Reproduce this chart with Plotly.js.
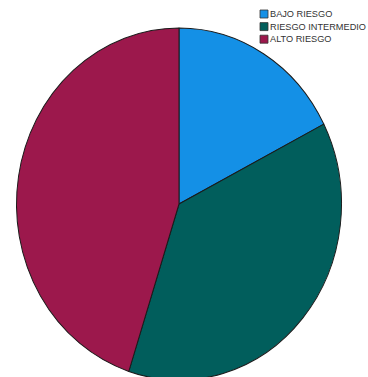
<!DOCTYPE html>
<html><head><meta charset="utf-8">
<script src="https://cdn.plot.ly/plotly-3.0.1.min.js"></script>
<style>body{margin:0;background:#fff}#chart{width:368px;height:377px}</style>
</head><body><div id="chart"></div>
<script>
var categories = ["BAJO RIESGO", "RIESGO INTERMEDIO", "ALTO RIESGO"];
var values = [7, 15, 18];
var colors = ["#1490E6", "#015E5C", "#9C184C"];

var W = 368, H = 377, cx = 179, cy = 204, r = 169;
var data = [{
  type: "pie",
  labels: categories,
  values: values,
  sort: false,
  direction: "clockwise",
  rotation: 0,
  textinfo: "none",
  hoverinfo: "label+value+percent",
  marker: {colors: colors, line: {color: "#1a1a1a", width: 1}},
  domain: {x: [(cx - r) / W, (cx + r) / W], y: [(H - cy - r) / H, (H - cy + r) / H]}
}];

// legend drawn as shapes + annotations (compact SPSS-style rows)
var shapes = [], annotations = [];
var lx = 260, ly = 10, step = 12.6, box = 8;
categories.forEach(function (c, i) {
  var top = ly + i * step;
  shapes.push({type: "rect", xref: "paper", yref: "paper",
    x0: lx / W, x1: (lx + box) / W, y0: 1 - (top + box) / H, y1: 1 - top / H,
    fillcolor: colors[i], line: {color: "#333", width: 0.8}});
  annotations.push({xref: "paper", yref: "paper", x: (lx + box + 1) / W, y: 1 - (top + box / 2) / H,
    xanchor: "left", yanchor: "middle", showarrow: false, text: c, borderpad: 0,
    font: {family: "Liberation Sans, Arial, sans-serif", size: 9.2, color: "#333"}});
});

var layout = {
  width: W, height: H,
  margin: {l: 0, r: 0, t: 0, b: 0, pad: 0, autoexpand: false},
  paper_bgcolor: "#ffffff",
  showlegend: false,
  shapes: shapes,
  annotations: annotations
};
Plotly.newPlot("chart", data, layout, {displayModeBar: false, staticPlot: true}).then(function () {
  // reference pie is slightly taller than wide
  var g = document.querySelector(".pielayer");
  if (g) {
    var sx = 162.5 / r, sy = 176 / r;
    g.setAttribute("transform", "translate(" + cx + "," + cy + ") scale(" + sx + "," + sy + ") translate(" + (-cx) + "," + (-cy) + ")");
  }
});
</script></body></html>
